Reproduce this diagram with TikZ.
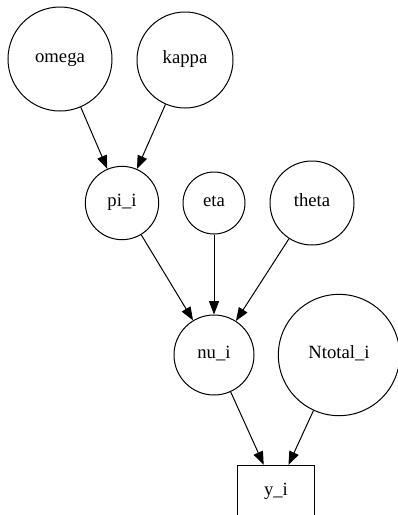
\documentclass[tikz,border=0pt]{standalone}
\usepackage{fontspec}
\setmainfont{Liberation Serif}
\usepackage{tikz}
\usetikzlibrary{arrows.meta}

\begin{document}
\begin{tikzpicture}[x=0.75pt,y=-0.75pt,
    var/.style={draw, circle, inner sep=0pt, line width=0.75pt, text height=1.5ex, text depth=0.25ex, font=\fontsize{14}{16}\selectfont},
    obs/.style={draw, rectangle, inner sep=0pt, line width=0.75pt, minimum width=58pt, minimum height=40pt, text height=1.5ex, text depth=0.25ex, font=\fontsize{14}{16}\selectfont},
    edge/.style={-{Triangle[length=10pt,width=7.5pt]}, line width=0.75pt}]
    \clip (0,0) rectangle (398,515);
    % top level
    \node[var, minimum size=78pt] (omega) at (60,59) {omega};
    \node[var, minimum size=72pt] (kappa) at (185,60) {kappa};
    % middle level
    \node[var, minimum size=55pt] (pi) at (122,203) {pi\_i};
    \node[var, minimum size=46.5pt] (eta) at (214,203) {eta};
    \node[var, minimum size=63pt] (theta) at (312,203) {theta};
    % lower level
    \node[var, minimum size=60pt] (nu) at (214,355) {nu\_i};
    \node[var, minimum size=91pt] (Ntotal) at (339,355) {Ntotal\_i};
    \node[obs] (y) at (276,492) {y\_i};
    \draw[edge] (omega) -- (pi);
    \draw[edge] (kappa) -- (pi);
    \draw[edge] (pi) -- (nu);
    \draw[edge] (eta) -- (nu);
    \draw[edge] (theta) -- (nu);
    \draw[edge] (nu) -- (y);
    \draw[edge] (Ntotal) -- (y);
\end{tikzpicture}
\end{document}
